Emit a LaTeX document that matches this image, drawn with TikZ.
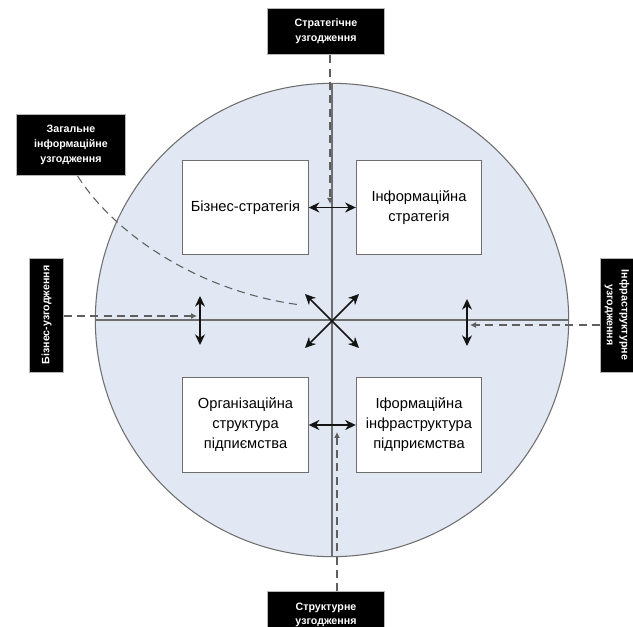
\documentclass[tikz,border=0pt]{standalone}
\usepackage{fontspec}
\setmainfont{Liberation Sans}
\usetikzlibrary{positioning,arrows.meta}
\definecolor{cDisk}{RGB}{225,232,244}
\definecolor{cLine}{RGB}{110,110,110}
\definecolor{cDash}{RGB}{95,95,95}
\definecolor{cArr}{RGB}{20,20,20}
\tikzset{
  block/.style={
    rectangle, draw=cLine, line width=0.8pt, fill=white,
    align=center, font=\fontsize{11}{15}\selectfont, inner sep=1pt,
    minimum width=94pt, minimum height=71pt,
  },
  tag/.style={
    rectangle, draw=cLine!50, line width=0.6pt, fill=black, text=white,
    align=center, font=\fontsize{8}{11}\selectfont\bfseries, inner sep=1pt,
  },
  axis/.style={line width=0.8pt, draw=cLine},
  dbl/.style={{Stealth[length=8pt,width=7.5pt]}-{Stealth[length=8pt,width=7.5pt]},
    line width=1.2pt, draw=cArr},
  feed/.style={-{Latex[length=4.5pt,width=4.5pt]}, dash pattern=on 6pt off 4pt,
    line width=0.8pt, draw=cDash},
}

\begin{document}
\begin{tikzpicture}[x=0.75pt,y=-0.75pt]
\useasboundingbox[fill=white] (0,0) rectangle (633,627);

% ===== grid coordinates =====
\def\colL{245.5}  % left box column x
\def\colR{419}    % right box column x
\def\rowT{207.5}  % top box row y
\def\rowB{425}    % bottom box row y

% ===== disk and axes =====
\node[circle, draw=cLine, line width=0.8pt, fill=cDisk, inner sep=0pt,
  minimum size=355pt] (disk) at (332,320) {};
\draw[axis] (disk.west) -- (disk.east);
\draw[axis] (disk.north) -- (disk.south);

% ===== quadrant blocks =====
\node[block] (bs) at (\colL,\rowT) {Бізнес-стратегія};
\node[block] (is) at (\colR,\rowT) {Інформаційна\\стратегія};
\node[block] (os) at (\colL,\rowB) {Організаційна\\структура\\підпиємства};
\node[block] (ii) at (\colR,\rowB) {Іформаційна\\інфраструктура\\підприємства};

% ===== alignment tags =====
\node[tag, minimum width=88pt, minimum height=35pt] (strat) at (326,31.5)
  {Стратегічне\\узгодження};
\node[tag, minimum width=88pt, minimum height=35pt] (struct) at (326,615)
  {Структурне\\узгодження};
\node[tag, minimum width=82pt, minimum height=46pt] (gen) at (71,145)
  {Загальне\\інформаційне\\узгодження};
\node[tag, rotate=90, minimum width=85.5pt, minimum height=25pt] (biz) at (46.5,315)
  {Бізнес-узгодження};
\node[tag, rotate=-90, minimum width=85.5pt, minimum height=25pt] (infra) at (617,315)
  {Інфраструктурне\\узгодження};

% ===== arrow end points =====
\coordinate (lu) at (200,296);
\coordinate (ld) at (200,345);
\coordinate (ru) at (467,299);
\coordinate (rd) at (467,346);
\coordinate (x1) at (305,294);
\coordinate (x2) at (359,348);
\coordinate (x3) at (359,294);
\coordinate (x4) at (305,348);
\coordinate (ta) at (330,204);
\coordinate (ba) at (337,432);
\coordinate (la) at (197,316);
\coordinate (ra) at (470,325);
\coordinate (ge) at (301,305);

% ===== double arrows =====
\draw[dbl] (bs.east) -- (is.west);
\draw[dbl] (os.east) -- (ii.west);
\draw[dbl] (lu) -- (ld);
\draw[dbl] (ru) -- (rd);
\draw[dbl] (x1) -- (x2);
\draw[dbl] (x3) -- (x4);

% ===== dashed feeds from tags =====
\draw[feed] (strat.south -| ta) -- (ta);
\draw[feed] (struct.north -| ba) -- (ba);
\draw[feed] (biz.south |- la) -- (la);
\draw[feed] (infra.south |- ra) -- (ra);
\draw[feed, -] ([xshift=5pt]gen.south) .. controls (115,235) and (200,292) .. (ge);

\end{tikzpicture}
\end{document}
